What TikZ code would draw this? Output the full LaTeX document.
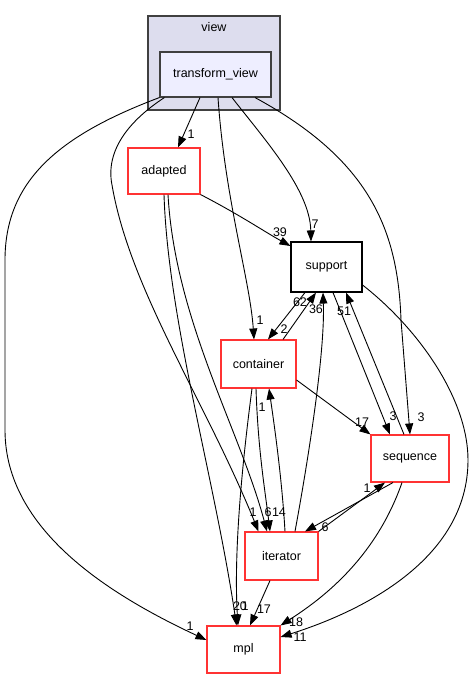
\documentclass[tikz,border=0pt]{standalone}
\usepackage{fontspec}
\setmainfont{Liberation Sans}
\usetikzlibrary{arrows.meta}
\definecolor{clfill}{HTML}{DDDDEE}
\definecolor{tvfill}{HTML}{EEEEFF}
\definecolor{bord}{HTML}{404040}
\definecolor{redb}{HTML}{FF3333}
\tikzset{
  box/.style={draw=#1, line width=1.1pt, fill=white, inner sep=0pt, font=\fontsize{12.5}{14}\selectfont},
  edge/.style={draw=black, line width=0.9pt, -{Triangle[length=11pt,width=8pt]}},
  lbl/.style={font=\fontsize{12.5}{13}\selectfont, inner sep=0pt}
}
\begin{document}
\begin{tikzpicture}[x=1pt,y=-1pt]
\useasboundingbox (0,0) rectangle (474,681);
% cluster
\node[draw=bord, fill=clfill, line width=1.1pt, minimum width=132pt, minimum height=94pt, inner sep=0pt] (view) at (214,63) {};
\node[lbl, font=\fontsize{12.5}{14}\selectfont] (viewlbl) at (214,27) {view};
% nodes
\node[box=bord, fill=tvfill, minimum width=111pt, minimum height=45pt] (tv) at (215.5,74.5) {transform\_view};
\node[box=redb, minimum width=72pt, minimum height=46pt] (adapted) at (164,171) {adapted};
\node[box=black, minimum width=71pt, minimum height=50pt] (support) at (326.5,267) {support};
\node[box=redb, minimum width=75pt, minimum height=48pt] (container) at (258.5,364) {container};
\node[box=redb, minimum width=78pt, minimum height=47pt] (sequence) at (410,458.5) {sequence};
\node[box=redb, minimum width=73pt, minimum height=48pt] (iterator) at (281.5,556) {iterator};
\node[box=redb, minimum width=73pt, minimum height=47pt] (mpl) at (243.5,649.5) {mpl};

% transform_view edges
\draw[edge] (tv.south west) .. controls (60,135) and (5,180) .. (5,260) -- (5,430) .. controls (5,530) and (110,595) .. ([yshift=9.5pt]mpl.west);
\draw[edge] ([xshift=5pt]tv.south west) .. controls (130,120) and (105,150) .. (112,185) .. controls (130,290) and (205,400) .. ([xshift=-23pt]iterator.north);
\draw[edge] ([xshift=-15.5pt]tv.south) -- ([xshift=14pt]adapted.north);
\draw[edge] ([xshift=2.5pt]tv.south) .. controls (225,200) and (250,280) .. ([xshift=-4.5pt]container.north);
\draw[edge] ([xshift=16.5pt]tv.south) .. controls (265,140) and (310,190) .. ([xshift=-15.5pt]support.north);
\draw[edge] ([xshift=39.5pt]tv.south) .. controls (370,160) and (398,230) .. (401,320) -- (sequence.north);

% adapted edges
\draw[edge] (adapted.south east) .. controls (240,215) and (265,232) .. ([yshift=21pt]support.west);
\draw[edge] (adapted.south) .. controls (168,320) and (215,480) .. ([xshift=-7pt]mpl.north);
\draw[edge] ([xshift=4pt]adapted.south) .. controls (175,320) and (240,430) .. ([xshift=-14.5pt]iterator.north);

% container / support
\draw[edge] ([xshift=24.5pt]container.north) -- ([xshift=-10.5pt]support.south);
\draw[edge] ([xshift=-21.5pt]support.south) -- ([xshift=9.5pt]container.north);
\draw[edge] ([yshift=-16pt]container.east) -- (sequence.north west);
\draw[edge] ([xshift=-6.5pt]container.south) .. controls (240,480) and (234,560) .. ([xshift=-5.5pt]mpl.north);
\draw[edge] ([xshift=-2.5pt]container.south) .. controls (258,450) and (265,490) .. ([xshift=-11.5pt]iterator.north);
\draw[edge] ([xshift=3.5pt]iterator.north) .. controls (282,480) and (275,430) .. ([xshift=10.5pt]container.south);

% iterator
\draw[edge] ([xshift=13.5pt]iterator.north) .. controls (310,450) and (325,350) .. ([xshift=-3.5pt]support.south);
\draw[edge] ([xshift=-11.5pt]iterator.south) -- ([xshift=6.5pt]mpl.north);
\draw[edge] (iterator.north east) -- ([xshift=-25pt]sequence.south);

% sequence
\draw[edge] ([xshift=-17pt]sequence.south) -- ([xshift=23.5pt]iterator.north);
\draw[edge] ([xshift=-6pt]sequence.north) -- ([xshift=19.5pt]support.south);
\draw[edge] ([xshift=6.5pt]support.south) -- ([xshift=-20pt]sequence.north);
\draw[edge] ([xshift=-8pt]sequence.south) .. controls (375,560) and (320,600) .. (mpl.north east);
\draw[edge] ([yshift=-18pt]support.east) .. controls (420,330) and (468,400) .. (468,460) .. controls (468,560) and (360,612) .. ([yshift=12.5pt]mpl.east);

% labels
\node[lbl] (l1) at (191,134) {1};
\node[lbl] (l2) at (260,320) {1};
\node[lbl] (l3) at (315,224) {7};
\node[lbl] (l4) at (421,417) {3};
\node[lbl] (l5) at (280,232) {39};
\node[lbl] (l6) at (300,302) {62};
\node[lbl] (l7) at (316,309) {36};
\node[lbl] (l8) at (344,311) {51};
\node[lbl] (l9) at (284,329) {2};
\node[lbl] (l10) at (362,422) {17};
\node[lbl] (l11) at (393,416) {3};
\node[lbl] (l12) at (262,407) {1};
\node[lbl] (l13) at (253,512) {1};
\node[lbl] (l14) at (268,512) {6};
\node[lbl] (l15) at (279,512) {14};
\node[lbl] (l16) at (325,527) {6};
\node[lbl] (l17) at (367,488) {1};
\node[lbl] (l18) at (240,606) {20};
\node[lbl] (l19) at (245,606) {1};
\node[lbl] (l20) at (264,609) {17};
\node[lbl] (l21) at (296,622) {18};
\node[lbl] (l22) at (300,637) {11};
\node[lbl] (l23) at (190,626) {1};
\end{tikzpicture}
\end{document}
